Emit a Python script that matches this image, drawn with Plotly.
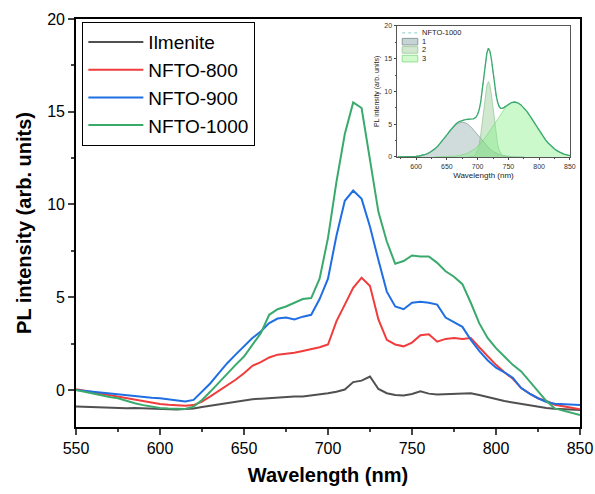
import plotly.graph_objects as go

# main spectra, sampled every 5 nm from 550 to 850
wavelength = [550 + 5 * i for i in range(61)]

ilmenite = [-0.90, -0.92, -0.93, -0.92, -0.95, -0.97, -0.99, -0.98, -1.00, -1.02,
            -1.03, -1.04, -1.05, -1.03, -1.00, -0.92, -0.85, -0.78, -0.70, -0.63,
            -0.55, -0.50, -0.48, -0.44, -0.40, -0.40, -0.36, -0.35, -0.30, -0.24,
            -0.18, -0.10, 0.02, 0.42, 0.50, 0.72, 0.05, -0.18, -0.27, -0.30,
            -0.22, -0.08, -0.20, -0.25, -0.24, -0.23, -0.20, -0.18, -0.28, -0.40,
            -0.52, -0.60, -0.68, -0.76, -0.84, -0.90, -0.97, -1.02, -1.05, -1.07,
            -1.08]
nfto_800 = [0.03, -0.05, -0.12, -0.20, -0.28, -0.36, -0.45, -0.55, -0.62, -0.70,
            -0.76, -0.80, -0.83, -0.86, -0.82, -0.63, -0.35, -0.05, 0.27, 0.55,
            0.90, 1.30, 1.50, 1.75, 1.90, 1.95, 2.00, 2.10, 2.20, 2.30,
            2.45, 3.70, 4.60, 5.50, 6.05, 5.60, 3.80, 2.70, 2.45, 2.35,
            2.55, 2.95, 3.00, 2.60, 2.75, 2.80, 2.75, 2.80, 2.30, 1.80,
            1.35, 0.95, 0.60, 0.10, -0.20, -0.45, -0.60, -0.80, -0.88, -0.95,
            -1.05]
nfto_900 = [0.00, -0.05, -0.10, -0.14, -0.18, -0.22, -0.28, -0.33, -0.38, -0.42,
            -0.45, -0.52, -0.58, -0.63, -0.54, -0.10, 0.36, 0.90, 1.44, 1.90,
            2.34, 2.80, 3.15, 3.60, 3.85, 3.90, 3.80, 3.95, 4.05, 4.90,
            6.00, 8.30, 10.20, 10.75, 10.30, 8.80, 7.00, 5.30, 4.50, 4.35,
            4.70, 4.75, 4.70, 4.60, 3.90, 3.65, 3.40, 2.70, 2.10, 1.60,
            1.20, 0.95, 0.65, 0.10, -0.20, -0.45, -0.65, -0.75, -0.78, -0.80,
            -0.82]
nfto_1000 = [0.00, -0.10, -0.20, -0.30, -0.38, -0.45, -0.60, -0.72, -0.82, -0.90,
             -0.97, -1.00, -1.02, -1.03, -0.90, -0.54, -0.09, 0.40, 0.90, 1.35,
             1.80, 2.40, 3.06, 4.05, 4.35, 4.50, 4.70, 4.90, 4.95, 6.00,
             8.20, 11.20, 13.80, 15.50, 15.20, 12.30, 9.60, 8.00, 6.80, 6.95,
             7.25, 7.20, 7.20, 6.85, 6.40, 6.10, 5.70, 4.70, 3.60, 2.80,
             2.25, 1.80, 1.35, 1.00, 0.45, -0.09, -0.60, -1.00, -1.12, -1.22,
             -1.35]

# inset: peak fit of NFTO-1000
fit_wl = [570, 575, 580, 585, 590, 595, 600, 605, 610, 615, 620, 625, 630, 635,
          640, 645, 650, 655, 660, 665, 670, 675, 680, 685, 690, 692.5, 695, 697.5,
          700, 702.5, 705, 707.5, 710, 712.5, 715, 717.5, 720, 722.5, 725, 727.5,
          730, 732.5, 735, 737.5, 740, 742.5, 745, 747.5, 750, 755, 760, 765, 770,
          775, 780, 785, 790, 795, 800, 805, 810, 815, 820, 825, 830, 835, 840,
          845, 850]
fit_sum = [0.00, 0.00, 0.01, 0.01, 0.03, 0.05, 0.08, 0.14, 0.23, 0.37, 0.57, 0.83,
           1.19, 1.62, 2.15, 2.74, 3.37, 3.99, 4.57, 5.05, 5.40, 5.60, 5.70, 5.75,
           5.75, 5.80, 5.90, 6.10, 6.50, 7.20, 8.40, 10.10, 12.20, 14.29, 15.87,
           16.60, 16.15, 14.84, 13.00, 11.10, 9.48, 8.34, 7.69, 7.42, 7.40, 7.52,
           7.70, 7.90, 8.05, 8.30, 8.38, 8.26, 7.98, 7.53, 6.95, 6.27, 5.52, 4.76,
           4.01, 3.30, 2.65, 2.08, 1.60, 1.20, 0.88, 0.63, 0.44, 0.30, 0.20]

peak1_wl = [570, 575, 580, 585, 590, 595, 600, 605, 610, 615, 620, 625, 630, 635,
            640, 645, 650, 655, 660, 665, 670, 675, 680, 685, 690, 695, 700, 705,
            710, 715, 720, 725, 730, 735, 740, 745, 750, 755, 760, 765, 770, 775]
peak1 = [0.00, 0.00, 0.01, 0.01, 0.03, 0.05, 0.08, 0.14, 0.23, 0.37, 0.57, 0.83,
         1.19, 1.62, 2.14, 2.72, 3.34, 3.94, 4.49, 4.92, 5.20, 5.30, 5.20, 4.92,
         4.49, 3.94, 3.34, 2.72, 2.14, 1.62, 1.19, 0.83, 0.57, 0.37, 0.23, 0.14,
         0.08, 0.05, 0.03, 0.01, 0.01, 0.00]

peak2_wl = [685, 687.5, 690, 692.5, 695, 697.5, 700, 702.5, 705, 707.5, 710, 712.5,
            715, 717.5, 720, 722.5, 725, 727.5, 730, 732.5, 735, 737.5, 740, 742.5,
            745, 747.5, 750]
peak2 = [0.00, 0.01, 0.03, 0.09, 0.22, 0.51, 1.05, 1.98, 3.39, 5.27, 7.41, 9.46,
         10.95, 11.50, 10.95, 9.46, 7.41, 5.27, 3.39, 1.98, 1.05, 0.51, 0.22, 0.09,
         0.03, 0.01, 0.00]

peak3_wl = [630, 640, 645, 650, 655, 660, 665, 670, 675, 680, 685, 690, 695, 700,
            705, 710, 715, 720, 725, 730, 735, 740, 745, 750, 755, 760, 765, 770,
            775, 780, 785, 790, 795, 800, 805, 810, 815, 820, 825, 830, 835, 840,
            845, 850]
peak3 = [0.00, 0.01, 0.02, 0.03, 0.05, 0.08, 0.13, 0.20, 0.30, 0.44, 0.63, 0.88,
         1.20, 1.60, 2.08, 2.65, 3.30, 4.01, 4.76, 5.52, 6.27, 6.95, 7.53, 7.97,
         8.25, 8.35, 8.25, 7.97, 7.53, 6.95, 6.27, 5.52, 4.76, 4.01, 3.30, 2.65,
         2.08, 1.60, 1.20, 0.88, 0.63, 0.44, 0.30, 0.20]

inset_names = ["NFTO-1000", "1", "2", "3"]

FONT = "Liberation Sans, Arial, sans-serif"

fig = go.Figure()

series = [
    ("Ilmenite", ilmenite, "#505050"),
    ("NFTO-800", nfto_800, "#f03c3c"),
    ("NFTO-900", nfto_900, "#1f6fe3"),
    ("NFTO-1000", nfto_1000, "#3aaa6c"),
]
for name, vals, color in series:
    fig.add_trace(go.Scatter(x=wavelength, y=vals, name=name, mode="lines",
                             line=dict(color=color, width=2)))

# inset fit components
fills = [
    (peak1_wl, peak1, "rgba(150,175,175,0.45)", "rgba(120,145,145,0.8)"),
    (peak2_wl, peak2, "rgba(140,200,140,0.42)", "rgba(140,190,140,0.8)"),
    (peak3_wl, peak3, "rgba(130,240,130,0.42)", "rgba(120,215,120,0.8)"),
]
for xs, ys, fc, lc in fills:
    fig.add_trace(go.Scatter(x=xs, y=ys, mode="lines", fill="tozeroy", fillcolor=fc,
                             line=dict(color=lc, width=0.8), showlegend=False,
                             xaxis="x2", yaxis="y2"))
fig.add_trace(go.Scatter(x=fit_wl, y=fit_sum, mode="lines", showlegend=False,
                         line=dict(color="#9fd6d6", width=1.2, dash="dot"),
                         xaxis="x2", yaxis="y2"))
fig.add_trace(go.Scatter(x=fit_wl, y=fit_sum, mode="lines", showlegend=False,
                         line=dict(color="#3aaa6c", width=1.3),
                         xaxis="x2", yaxis="y2"))

# small inset legend (drawn by hand so rows can sit close together)
fig.add_shape(type="line", xref="x2 domain", yref="y2 domain",
              x0=0.03, x1=0.12, y0=0.947, y1=0.947,
              line=dict(color="#9fd6d6", width=1.2, dash="dot"))
swatches = [
    (0.905, 0.855, "#c7d4d4", "#8a9c9c"),
    (0.842, 0.792, "#d2e7cf", "#a9cfa6"),
    (0.776, 0.725, "#cffacc", "#96df94"),
]
for y0, y1, fc, lc in swatches:
    fig.add_shape(type="rect", xref="x2 domain", yref="y2 domain",
                  x0=0.03, x1=0.12, y0=y1, y1=y0, fillcolor=fc,
                  line=dict(color=lc, width=1))
label_y = [0.947, 0.880, 0.817, 0.750]
for txt, yy in zip(inset_names, label_y):
    fig.add_annotation(text=txt, xref="x2 domain", yref="y2 domain", x=0.135, y=yy,
                       xanchor="left", yanchor="middle", showarrow=False,
                       font=dict(size=7.5, color="#222"))

fig.update_layout(
    width=595, height=494,
    margin=dict(l=76, r=15, t=19, b=67),
    paper_bgcolor="white", plot_bgcolor="white",
    font=dict(family=FONT, color="black"),
    xaxis=dict(range=[550, 850], dtick=50, ticks="outside", ticklen=6, tickwidth=1.5,
               minor=dict(dtick=25, ticks="outside", ticklen=3.5, tickwidth=1.5),
               showline=True, linecolor="black", linewidth=1.6, mirror=True,
               showgrid=False, zeroline=False, tickfont=dict(size=16), automargin=False,
               title=dict(text="<b>Wavelength (nm)</b>", font=dict(size=20), standoff=12)),
    yaxis=dict(range=[-2, 20], tickvals=[0, 5, 10, 15, 20], ticks="outside", ticklen=6,
               tickwidth=1.5,
               minor=dict(tickvals=[2.5, 7.5, 12.5, 17.5], ticks="outside", ticklen=3.5,
                          tickwidth=1.5),
               showline=True, linecolor="black", linewidth=1.6, mirror=True,
               showgrid=False, zeroline=False, tickfont=dict(size=16), automargin=False,
               title=dict(text="<b>PL intensity (arb. units)</b>", font=dict(size=20),
                          standoff=10)),
    xaxis2=dict(domain=[0.637, 0.980], anchor="y2", range=[569, 850], dtick=50,
                ticks="outside", ticklen=2.5, tickwidth=0.8, tickcolor="#444",
                minor=dict(dtick=25, ticks="outside", ticklen=1.5, tickwidth=0.8,
                           tickcolor="#444"),
                showline=True, linecolor="#555", linewidth=1, mirror=True,
                showgrid=False, zeroline=False, tickfont=dict(size=7, color="#333"),
                automargin=False,
                title=dict(text="Wavelength (nm)", font=dict(size=8, color="#222"),
                           standoff=3)),
    yaxis2=dict(domain=[0.662, 0.983], anchor="x2", range=[0, 20], dtick=5,
                ticks="outside", ticklen=2.5, tickwidth=0.8, tickcolor="#444",
                minor=dict(dtick=2.5, ticks="outside", ticklen=1.5, tickwidth=0.8,
                           tickcolor="#444"),
                showline=True, linecolor="#555", linewidth=1, mirror=True,
                showgrid=False, zeroline=False, tickfont=dict(size=7, color="#333"),
                automargin=False,
                title=dict(text="PL intensity (arb. units)", font=dict(size=7, color="#222"),
                           standoff=3)),
    legend=dict(x=0.012, y=0.993, xanchor="left", yanchor="top",
                bordercolor="black", borderwidth=1.3, bgcolor="white",
                font=dict(size=19), tracegroupgap=0, itemwidth=55),
)

# the page body has a default 8px margin; drop it so the figure fills the window
fig.write_html("out.html", config={"displayModeBar": False},
               post_script="document.body.style.margin='0';")
